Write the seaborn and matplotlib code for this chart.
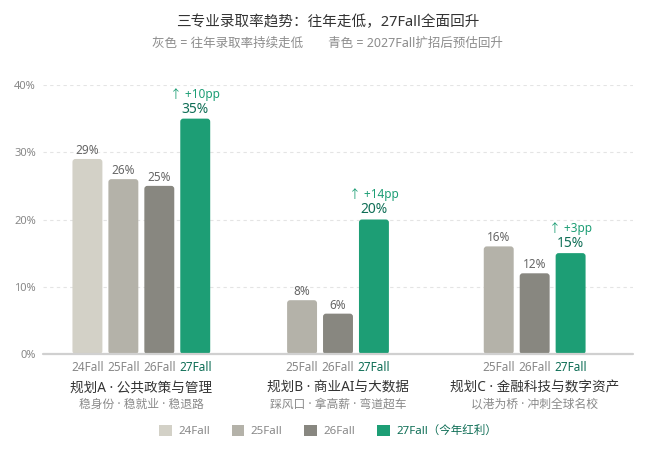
import numpy as np
import pandas as pd
import matplotlib
matplotlib.use("Agg")
import matplotlib.pyplot as plt
from matplotlib.patches import FancyBboxPatch, Patch
from matplotlib.ticker import FuncFormatter
import seaborn as sns

# ---------------- data ----------------
groups = ["规划A · 公共政策与管理", "规划B · 商业AI与大数据", "规划C · 金融科技与数字资产"]
group_notes = ["稳身份 · 稳就业 · 稳退路", "踩风口 · 拿高薪 · 弯道超车", "以港为桥 · 冲刺全球名校"]
years = ["24Fall", "25Fall", "26Fall", "27Fall"]
rates_a = [29, 26, 25, 35]
rates_b = [None, 8, 6, 20]
rates_c = [None, 16, 12, 15]
deltas = ["+10pp", "+14pp", "+3pp"]
y_ticks = [0, 10, 20, 30, 40]
title = "三专业录取率趋势：往年走低，27Fall全面回升"
subtitle = "灰色 = 往年录取率持续走低\u3000\u3000青色 = 2027Fall扩招后预估回升"
legend_labels = ["24Fall", "25Fall", "26Fall", "27Fall（今年红利）"]

colors = {"24Fall": "#D3D1C7", "25Fall": "#B4B2A9", "26Fall": "#888780", "27Fall": "#1D9E75"}
TEAL_DARK = "#0F6E56"
TEAL = "#1D9E75"

sns.set_theme(style="white")
plt.rcParams["font.family"] = ["Noto Sans", "Noto Sans CJK SC", "DejaVu Sans"]

# ---------------- layout of bars ----------------
step = 36 / 197.0  # distance between neighbouring bars in a group (group spacing = 1)
rows = []
for g, vals in enumerate([rates_a, rates_b, rates_c]):
    present = [(y, v) for y, v in zip(years, vals) if v is not None]
    n = len(present)
    for i, (y, v) in enumerate(present):
        rows.append({"group": g, "year": y, "rate": v, "pos": g + (i - (n - 1) / 2) * step})
df = pd.DataFrame(rows)

fig = plt.figure(figsize=(6.55, 4.5), dpi=100)
ax = fig.add_axes([43 / 655, 1 - 354 / 450, 590 / 655, 269 / 450])

sns.barplot(data=df, x="pos", y="rate", hue="year", hue_order=years, palette=colors,
            native_scale=True, dodge=False, width=0.833, legend=False, ax=ax,
            saturation=1, edgecolor="none", linewidth=0)

ax.set_xlim(-0.5, 2.5)
ax.set_ylim(0, 40)

# rounded bars
fig.canvas.draw()
bb = ax.get_window_extent()
px_x = bb.width / 3.0
px_y = bb.height / 40.0
r_px = 3.0
aspect = (1 / px_y) / (1 / px_x)
rects = list(ax.patches)
for p in rects:
    x0, y0 = p.get_x(), p.get_y()
    w, h = p.get_width(), p.get_height()
    if not np.isfinite(h) or h == 0:
        p.remove()
        continue
    fc = p.get_facecolor()
    p.remove()
    fb = FancyBboxPatch((x0, y0), w, h,
                        boxstyle=f"round,pad=0,rounding_size={r_px / px_x}",
                        mutation_aspect=aspect, facecolor=fc, edgecolor="none",
                        zorder=2)
    ax.add_patch(fb)

# grid and baseline
for t in y_ticks[1:]:
    ax.axhline(t, color="#e4e4e4", lw=0.8, ls=(0, (3, 3)), zorder=0)
ax.axhline(0, color="#d0d0d0", lw=1.6, zorder=3, clip_on=False)
for s in ax.spines.values():
    s.set_visible(False)
ax.grid(False)

ax.set_yticks(y_ticks)
ax.yaxis.set_major_formatter(FuncFormatter(lambda v, _: f"{v:.0f}%"))
ax.tick_params(axis="y", length=0, pad=5, labelsize=8, labelcolor="#888888")

ax.set_xticks(df["pos"].tolist())
ax.set_xticklabels(df["year"].tolist())
ax.tick_params(axis="x", length=0, pad=5, labelsize=8.5, labelcolor="#888888")
for lbl, yr in zip(ax.get_xticklabels(), df["year"]):
    if yr == "27Fall":
        lbl.set_color(TEAL_DARK)
ax.set_xlabel("")
ax.set_ylabel("")

# value labels
for _, r in df.iterrows():
    if r["year"] == "27Fall":
        ax.annotate(f"{r['rate']:.0f}%", (r["pos"], r["rate"]), xytext=(0, 1.5),
                    textcoords="offset points", ha="center", va="bottom",
                    fontsize=10, color=TEAL_DARK)
        ax.annotate(f"↑ {deltas[int(r['group'])]}", (r["pos"], r["rate"]), xytext=(0, 13),
                    textcoords="offset points", ha="center", va="bottom",
                    fontsize=8.5, color=TEAL)
    else:
        ax.annotate(f"{r['rate']:.0f}%", (r["pos"], r["rate"]), xytext=(0, 1.5),
                    textcoords="offset points", ha="center", va="bottom",
                    fontsize=8.5, color="#666666")

# group labels
for g, (name, note) in enumerate(zip(groups, group_notes)):
    ax.annotate(name, (g, 0), xycoords=("data", "axes fraction"), xytext=(0, -34),
                textcoords="offset pixels", ha="center", va="center",
                fontsize=9.8, color="#333333")
    ax.annotate(note, (g, 0), xycoords=("data", "axes fraction"), xytext=(0, -50),
                textcoords="offset pixels", ha="center", va="center",
                fontsize=8.5, color="#8a8a8a")

# titles
fig.text(0.5, 1 - 23 / 450, title, ha="center", va="center", fontsize=10.5, color="#333333")
fig.text(0.5, 1 - 43 / 450, subtitle, ha="center", va="center", fontsize=9, color="#8c8c8c")

# legend
handles = [Patch(facecolor=colors[y], edgecolor="none") for y in years]
leg = fig.legend(handles, legend_labels, loc="center", bbox_to_anchor=(328 / 655, 1 - 431 / 450),
                 ncol=4, frameon=False, fontsize=8.3, handlelength=1.1, handleheight=1.1,
                 handletextpad=0.55, columnspacing=1.9)
for txt in leg.get_texts():
    txt.set_color("#888888")
leg.get_texts()[-1].set_color(TEAL_DARK)

fig.savefig("out.png", dpi=100, facecolor="white")
